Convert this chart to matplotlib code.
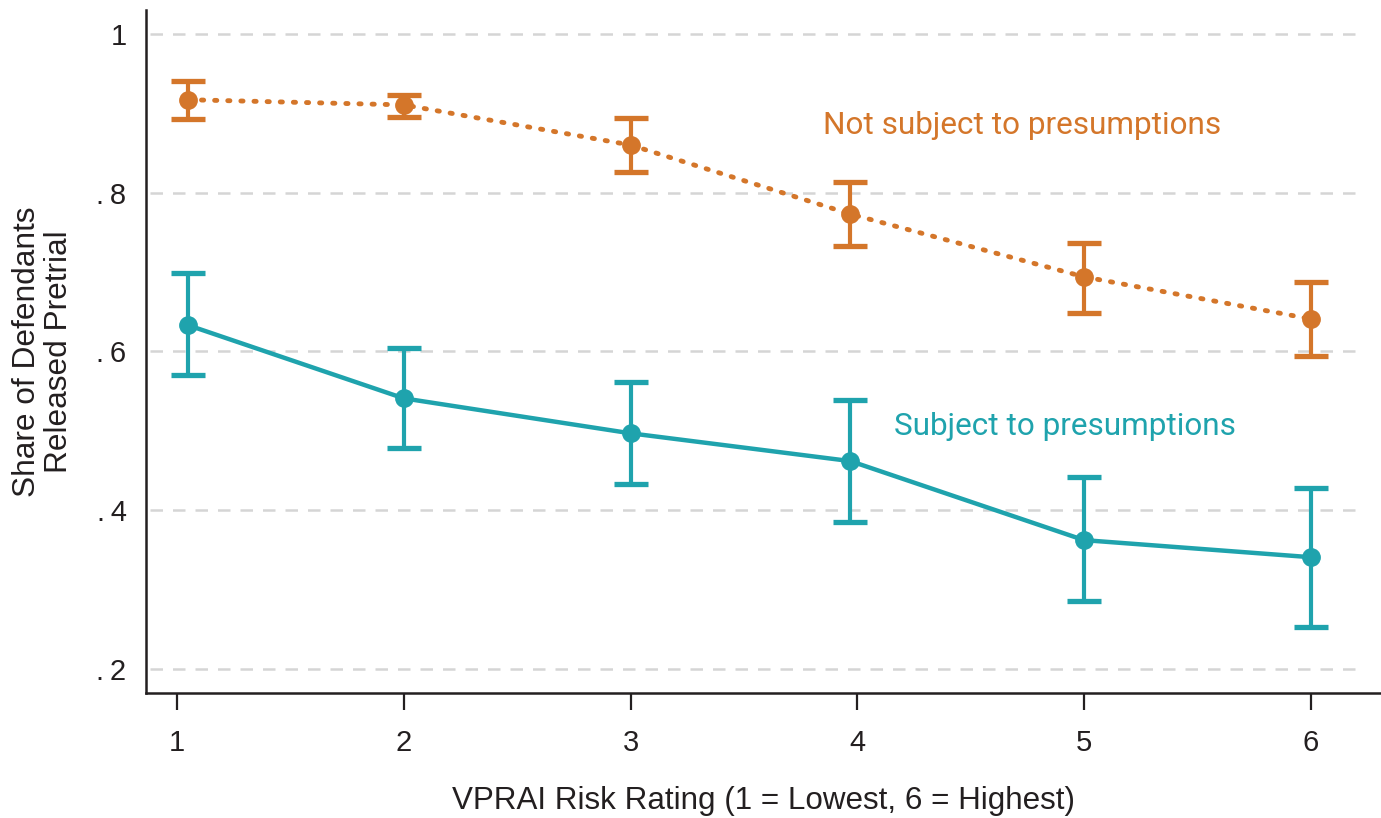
import numpy as np
import matplotlib.pyplot as plt

plt.rcParams['font.family'] = ['Liberation Sans', 'DejaVu Sans']

# mean risk rating within each group (points sit slightly off the integer ticks)
risk = [1.05, 2.0, 3.0, 3.97, 5.0, 6.0]

not_subject = [0.917, 0.9105, 0.860, 0.773, 0.694, 0.641]
not_subject_lo = [0.893, 0.895, 0.826, 0.733, 0.649, 0.594]
not_subject_hi = [0.941, 0.923, 0.894, 0.814, 0.737, 0.688]

subject = [0.633, 0.541, 0.497, 0.462, 0.3625, 0.341]
subject_lo = [0.570, 0.478, 0.433, 0.385, 0.286, 0.253]
subject_hi = [0.699, 0.604, 0.562, 0.539, 0.442, 0.428]

yticks = [0.2, 0.4, 0.6, 0.8, 1.0]
ytick_labels = ['.\u20092', '.\u20094', '.\u20096', '.\u20098', '1']

orange = '#D4762A'
teal = '#1FA3AD'
dark = '#231F20'

fig = plt.figure(figsize=(13.81, 8.18), dpi=100)
ax = fig.add_axes([0.1057, 0.1528, 0.8943, 0.835])

for y in yticks:
    ax.axhline(y, xmin=0.003, xmax=0.985, color='#D5D5D5', lw=1.8,
               dashes=(5, 4), zorder=0)

# not subject to presumptions: dotted line
ns = np.array(not_subject)
ax.errorbar(risk, ns, yerr=[ns - np.array(not_subject_lo), np.array(not_subject_hi) - ns],
            fmt='none', ecolor=orange, elinewidth=3, capsize=12.5, capthick=3.8, zorder=3)
ax.plot(risk, ns, color=orange, lw=3.5, dashes=(0.45, 2.25),
        dash_capstyle='round', zorder=2)
ax.plot(risk, ns, 'o', color=orange, ms=12.5, zorder=4)

# subject to presumptions: solid line
sb = np.array(subject)
ax.errorbar(risk, sb, yerr=[sb - np.array(subject_lo), np.array(subject_hi) - sb],
            fmt='none', ecolor=teal, elinewidth=3, capsize=12.5, capthick=3.8, zorder=3)
ax.plot(risk, sb, '-o', color=teal, lw=3.2, ms=12.5, zorder=4)

ax.text(3.851, 0.884, 'Not subject to presumptions', color=orange,
        fontsize=22.7, va='center', ha='left', family='Roboto')
ax.text(4.16, 0.505, 'Subject to presumptions', color=teal,
        fontsize=22.7, va='center', ha='left', family='Roboto')

ax.set_xlim(0.863, 6.31)
ax.set_ylim(0.17, 1.03)
ax.set_xticks([1, 2, 3, 4, 5, 6])
ax.set_yticks(yticks)
ax.set_yticklabels(ytick_labels)

for side in ['top', 'right']:
    ax.spines[side].set_visible(False)
for side in ['left', 'bottom']:
    ax.spines[side].set_linewidth(1.8)
    ax.spines[side].set_color(dark)

ax.tick_params(axis='x', length=12, width=1.6, color=dark, pad=14,
               labelsize=21, labelcolor=dark)
ax.tick_params(axis='y', length=0, pad=14, labelsize=21, labelcolor=dark)

ax.set_xlabel('VPRAI Risk Rating (1 = Lowest, 6 = Highest)', fontsize=22.6,
              color=dark, labelpad=21)
ax.set_ylabel('Share of Defendants\nReleased Pretrial', fontsize=22.8,
              color=dark, linespacing=1.1)
ax.yaxis.set_label_coords(-0.058, 0.5)

fig.savefig('out.png', dpi=100)
